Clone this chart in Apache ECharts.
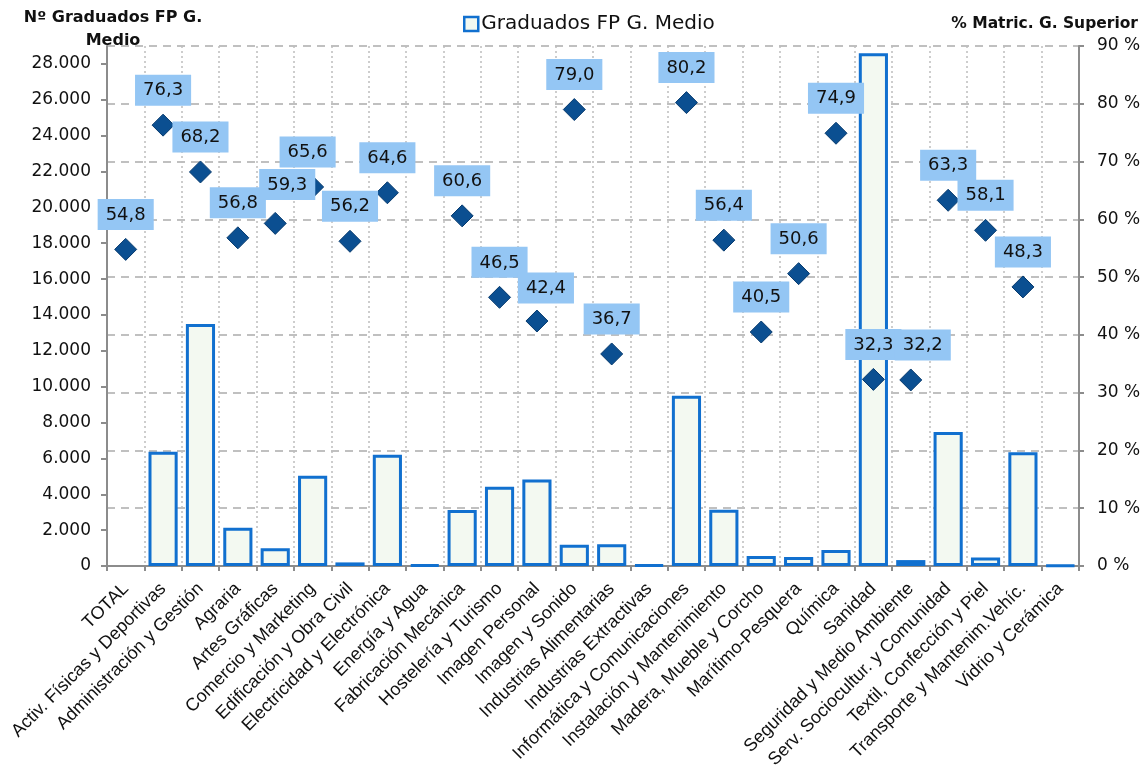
<!DOCTYPE html>
<html>
<head>
<meta charset="utf-8">
<script src="https://cdn.jsdelivr.net/npm/echarts@6/dist/echarts.min.js"></script>
<style>
  html, body { margin: 0; padding: 0; background: #fff; }
  #chart { width: 1146px; height: 767px; }
</style>
</head>
<body>
<div id="chart"></div>
<script>
// familias profesionales
var categories = ['TOTAL', 'Activ. Físicas y Deportivas', 'Administración y Gestión', 'Agraria',
  'Artes Gráficas', 'Comercio y Marketing', 'Edificación y Obra Civil', 'Electricidad y Electrónica',
  'Energía y Agua', 'Fabricación Mecánica', 'Hostelería y Turismo', 'Imagen Personal',
  'Imagen y Sonido', 'Industrias Alimentarias', 'Industrias Extractivas', 'Informática y Comunicaciones',
  'Instalación y Mantenimiento', 'Madera, Mueble y Corcho', 'Marítimo-Pesquera', 'Química',
  'Sanidad', 'Seguridad y Medio Ambiente', 'Serv. Sociocultur. y Comunidad', 'Textil, Confección y Piel',
  'Transporte y Mantenim.Vehíc.', 'Vidrio y Cerámica'];

// nº graduados FP grado medio (eje izquierdo)
var graduados = [null, 6370, 13500, 2140, 990, 5040, 200, 6210, 60, 3120, 4420, 4830, 1190, 1210,
  50, 9500, 3140, 560, 500, 890, 28600, 330, 7480, 480, 6340, 40];

// % que se matricula en grado superior (eje derecho)
var pctSuperior = [54.8, 76.3, 68.2, 56.8, 59.3, 65.6, 56.2, 64.6, null, 60.6, 46.5, 42.4, 79.0, 36.7,
  null, 80.2, 56.4, 40.5, 50.6, 74.9, 32.3, 32.2, 63.3, 58.1, 48.3, null];

// etiquetas movidas a mano en el original
var labelShift = { 4: [12, -4], 5: [-5, 0], 11: [9, 2], 21: [12, 0] };

var gothic = '"DejaVu Sans", sans-serif';

var pctData = pctSuperior.map(function (v, i) {
  var item = { value: v };
  if (labelShift[i]) item.label = { offset: labelShift[i] };
  return item;
});

var myChart = echarts.init(document.getElementById('chart'));
var option = {
  animation: false,
  title: {
    text: '% Matric. G. Superior',
    right: 3,
    top: 11,
    textStyle: { fontFamily: gothic, fontSize: 15.5, fontWeight: 'bold', color: '#111' }
  },
  legend: {
    data: ['Graduados FP G. Medio'],
    left: 458,
    top: 9,
    itemWidth: 14,
    itemHeight: 14,
    itemGap: 4,
    icon: 'rect',
    itemStyle: { color: '#F3F9F1', borderColor: '#1170CF', borderWidth: 2.5 },
    textStyle: { fontFamily: gothic, fontSize: 20, color: '#111', padding: [0, 0, 0, -2] }
  },
  grid: {
    left: 107,
    right: 67,
    top: 46,
    bottom: 201,
    containLabel: false,
    outerBoundsMode: 'none'
  },
  xAxis: {
    type: 'category',
    data: categories,
    boundaryGap: true,
    axisLine: { show: true, lineStyle: { color: '#8c8c8c', width: 2 } },
    axisTick: { show: true, length: 5, alignWithLabel: false, lineStyle: { color: '#8c8c8c', width: 2 } },
    axisLabel: {
      interval: 0,
      rotate: 45,
      margin: 20,
      fontFamily: '"Liberation Sans", Arial, sans-serif',
      fontSize: 18,
      color: '#111'
    },
    splitLine: { show: true, lineStyle: { color: '#bdbdbd', type: [2, 3], width: 1.5 } }
  },
  yAxis: [
    {
      type: 'value',
      min: 0,
      max: 29000,
      interval: 2000,
      name: 'Nº Graduados FP G.\nMedio',
      nameLocation: 'end',
      nameGap: -6,
      nameTextStyle: { fontFamily: gothic, fontSize: 16, fontWeight: 'bold', color: '#111', align: 'center', padding: [0, 0, 0, 12], lineHeight: 23 },
      axisLine: { show: true, lineStyle: { color: '#8c8c8c', width: 2 } },
      axisTick: { show: true, length: 6, lineStyle: { color: '#8c8c8c', width: 2 } },
      splitLine: { show: false },
      axisLabel: {
        showMaxLabel: false,
        margin: 16,
        fontFamily: gothic,
        fontSize: 17,
        color: '#111',
        formatter: function (v) { return v.toLocaleString('de-DE'); }
      }
    },
    {
      type: 'value',
      min: 0,
      max: 90,
      interval: 10,
      position: 'right',
      axisLine: { show: true, lineStyle: { color: '#8c8c8c', width: 2 } },
      axisTick: { show: true, length: 5, lineStyle: { color: '#8c8c8c', width: 2 } },
      splitLine: { show: true, lineStyle: { color: '#c0c0c0', type: [8, 6], width: 2 } },
      axisLabel: {
        margin: 18,
        fontFamily: gothic,
        fontSize: 17,
        color: '#111',
        formatter: '{value} %'
      }
    }
  ],
  series: [
    {
      name: 'Graduados FP G. Medio',
      type: 'bar',
      yAxisIndex: 0,
      barCategoryGap: '22%',
      data: graduados,
      itemStyle: { color: '#F3F9F1', borderColor: '#1170CF', borderWidth: 3 }
    },
    {
      name: '% Matric. G. Superior',
      type: 'scatter',
      yAxisIndex: 1,
      symbol: 'diamond',
      symbolSize: 22,
      data: pctData,
      itemStyle: { color: '#0B4F91', borderColor: '#083B6E', borderWidth: 1, opacity: 1 },
      label: {
        show: true,
        position: 'top',
        distance: 8,
        backgroundColor: '#94C6F4',
        padding: [7, 8, 6, 8],
        fontFamily: gothic,
        fontSize: 18,
        color: '#111',
        formatter: function (p) { return p.value == null ? '' : p.value.toFixed(1).replace('.', ','); }
      },
      z: 3
    }
  ]
};
myChart.setOption(option);
</script>
</body>
</html>
